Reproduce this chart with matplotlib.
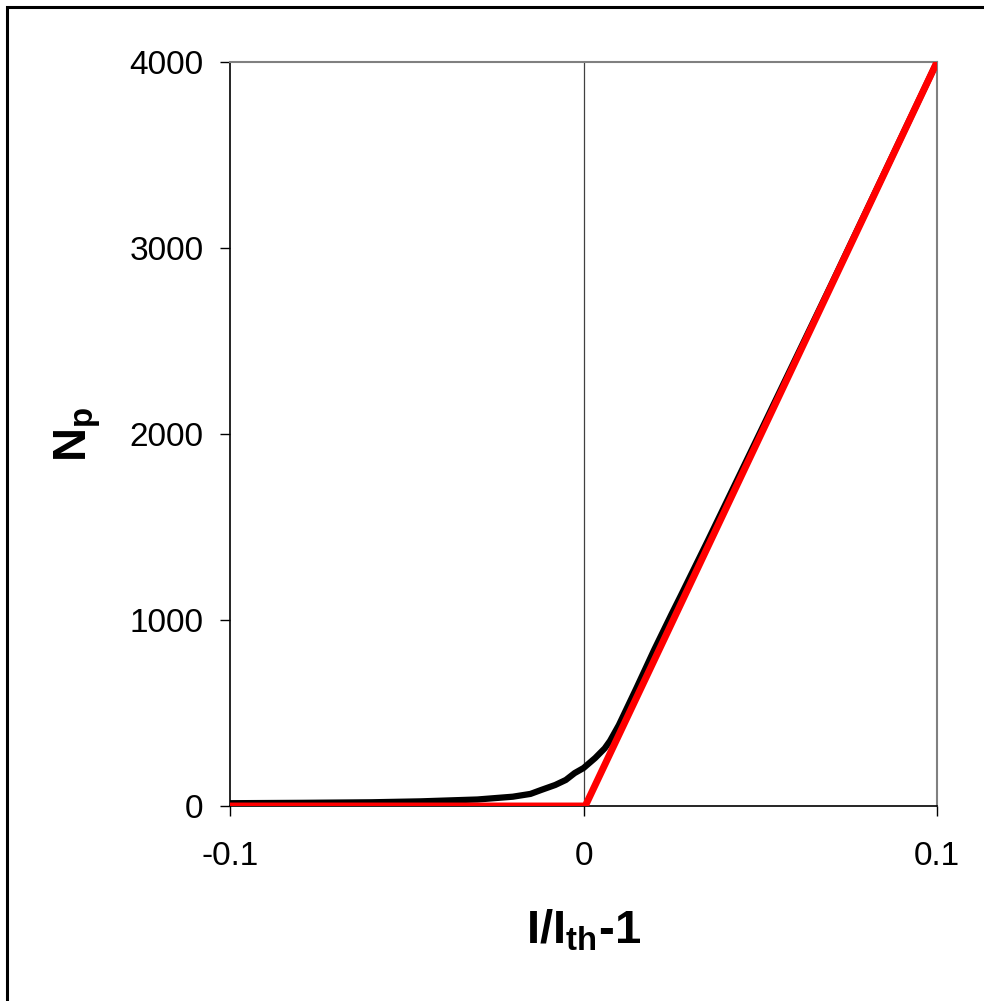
import matplotlib
matplotlib.use('Agg')
import matplotlib.pyplot as plt
from matplotlib.patches import Rectangle

plt.rcParams['font.family'] = ['Liberation Sans', 'DejaVu Sans']
plt.rcParams['mathtext.fontset'] = 'custom'
plt.rcParams['mathtext.rm'] = 'Liberation Sans'
plt.rcParams['mathtext.bf'] = 'Liberation Sans:bold'

# black curve
x_np = [-0.1, -0.08, -0.06, -0.046, -0.03, -0.02, -0.015, -0.012, -0.008,
        -0.005, -0.0025, 0.0, 0.0033, 0.006, 0.0075, 0.01, 0.0125, 0.015,
        0.02, 0.025, 0.0275, 0.035, 0.05, 0.07, 0.1]
np_vals = [15, 17, 20, 25, 35, 50, 65, 86, 113, 140, 177, 204, 258, 310,
           350, 435, 535, 635, 840, 1035, 1130, 1420, 2010, 2800, 4000]

# red line (threshold approximation)
x_lin = [-0.1, 0.0005, 0.1]
np_lin = [0, 0, 4000]

x_ticks = [-0.1, 0, 0.1]
x_ticklabels = ['-0.1', '0', '0.1']
y_ticks = [0, 1000, 2000, 3000, 4000]

fig = plt.figure(figsize=(9.84, 10.01), dpi=100)
ax = fig.add_axes([230 / 984, 1 - 806 / 1001, 707 / 984, 744 / 1001])

# outer frame of the chart
fig.patches.append(Rectangle((6.5 / 984, -0.1), 1.2, 1.1 - 7.5 / 1001,
                             transform=fig.transFigure, fill=False,
                             edgecolor='black', linewidth=2.2))

ax.axvline(0, color='#404040', linewidth=0.9, zorder=1)
ax.plot(x_np, np_vals, color='black', linewidth=4.5, zorder=2,
        solid_joinstyle='round')
ax.plot(x_lin, np_lin, color='#ff0000', linewidth=5, zorder=3,
        solid_capstyle='butt')

ax.set_xlim(-0.1, 0.1)
ax.set_ylim(0, 4000)
ax.set_xticks(x_ticks)
ax.set_xticklabels(x_ticklabels)
ax.set_yticks(y_ticks)

for s in ['top', 'right']:
    ax.spines[s].set_color('#808080')
    ax.spines[s].set_linewidth(1.5)
for s in ['left', 'bottom']:
    ax.spines[s].set_color('black')
    ax.spines[s].set_linewidth(1.2)

ax.tick_params(axis='y', direction='out', length=7, width=1, labelsize=24, pad=12)
ax.tick_params(axis='x', direction='out', length=7, width=1, labelsize=24, pad=18)

ax.set_xlabel(r'$\mathbf{I/I_{th}}$-1', fontsize=34, fontweight='bold')
ax.xaxis.set_label_coords(0.5, -(908 - 806) / 744)
ax.set_ylabel(r'$\mathbf{N_p}$', fontsize=34, fontweight='bold')
ax.yaxis.set_label_coords(-(230 - 103) / 707, 0.5)

fig.savefig('out.png', dpi=100)
